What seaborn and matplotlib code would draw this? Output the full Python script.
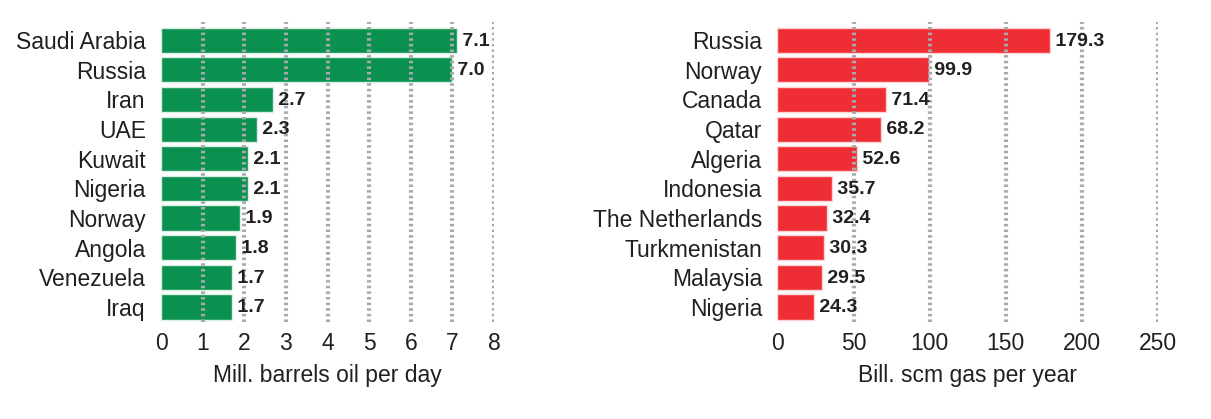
import matplotlib
matplotlib.use("Agg")
import matplotlib.pyplot as plt
import seaborn as sns
import pandas as pd
from matplotlib import font_manager

# dados
oil_countries = ["Saudi Arabia", "Russia", "Iran", "UAE", "Kuwait", "Nigeria",
                 "Norway", "Angola", "Venezuela", "Iraq"]
oil_values = [7.1, 7.0, 2.7, 2.3, 2.1, 2.1, 1.9, 1.8, 1.7, 1.7]
oil_ticks = [0, 1, 2, 3, 4, 5, 6, 7, 8]

gas_countries = ["Russia", "Norway", "Canada", "Qatar", "Algeria", "Indonesia",
                 "The Netherlands", "Turkmenistan", "Malaysia", "Nigeria"]
gas_values = [179.3, 99.9, 71.4, 68.2, 52.6, 35.7, 32.4, 30.3, 29.5, 24.3]
gas_ticks = [0, 50, 100, 150, 200, 250]

sns.set_theme(style="white")
nomes = {f.name for f in font_manager.fontManager.ttflist}
fonte = "Liberation Sans Narrow" if "Liberation Sans Narrow" in nomes else "Liberation Sans"
plt.rcParams["font.family"] = [fonte, "DejaVu Sans"]
plt.rcParams["text.color"] = "#231f20"

fig = plt.figure(figsize=(12.11, 4.19), dpi=100)
ax1 = fig.add_axes([0.133, 0.232, 0.275, 0.716])
ax2 = fig.add_axes([0.642, 0.232, 0.314, 0.716])


def painel(ax, paises, valores, ticks, cor, borda, rotulo):
    df = pd.DataFrame({"pais": paises, "valor": valores})
    sns.barplot(data=df, x="valor", y="pais", color=cor, width=0.85,
                edgecolor=borda, linewidth=1, saturation=1, ax=ax)
    ax.set_xlim(ticks[0], ticks[-1])
    ax.set_ylim(len(paises) - 0.5, -0.62)
    ax.set_xticks(ticks)
    # linhas de grade pontilhadas por cima das barras
    for t in ticks[1:]:
        ax.axvline(t, color="#a7a9ac", lw=3, ls=(0, (0.6, 0.75)), zorder=5)
    for i, v in enumerate(valores):
        ax.text(v, i + 0.03, " " + f"{v:.1f}", va="center", ha="left",
                fontsize=14, fontweight="bold", zorder=6)
    for s in ax.spines.values():
        s.set_visible(False)
    ax.tick_params(axis="both", length=0, labelsize=16.5, colors="#231f20")
    ax.tick_params(axis="y", pad=11)
    ax.tick_params(axis="x", pad=7)
    ax.set_xlabel(rotulo, fontsize=16.5, color="#231f20", labelpad=7)
    ax.set_ylabel("")


painel(ax1, oil_countries, oil_values, oil_ticks, "#0a9150", "#d9efe2",
       "Mill. barrels oil per day")
painel(ax2, gas_countries, gas_values, gas_ticks, "#ee2e34", "#fbd3d4",
       "Bill. scm gas per year")

fig.savefig("out.png", dpi=100)
